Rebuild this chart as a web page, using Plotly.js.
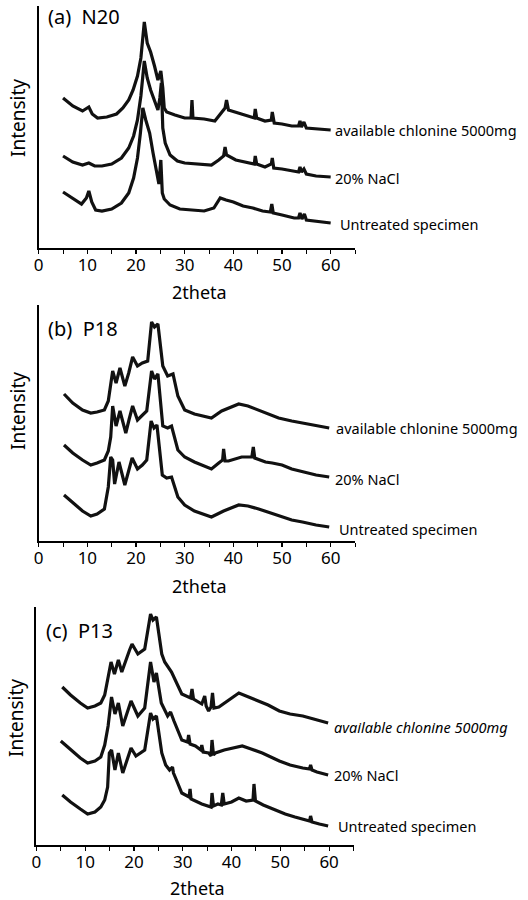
<!DOCTYPE html>
<html>
<head>
<meta charset="utf-8">
<script src="https://cdn.plot.ly/plotly-3.0.1.min.js"></script>
<style>html,body{margin:0;padding:0;background:#fff;}#chart{width:528px;height:900px;}</style>
</head>
<body>
<div id="chart"></div>
<script>
// ---------- Data (2theta vs. relative intensity, stacked curves) ----------
const seriesNames = ["available chlonine 5000mg", "20% NaCl", "Untreated specimen"];
const panelTitles = ["(a)\u00a0 N20", "(b)\u00a0 P18", "(c)\u00a0 P13"];
const xTicks = [0, 10, 20, 30, 40, 50, 60];

// (a) N20
const aChlorX = [5,7,9,10.3,11,12.1,14,16,17.3,18.5,19.4,20.3,21,21.7,22.3,23,23.8,24.5,25.1,25.5,25.8,26.3,28,30,31.3,31.5,31.7,34,36.2,37.5,38.3,38.6,39,41,43,44.3,44.5,44.8,46.5,47.8,48,48.4,50,52,53.4,53.7,54,54.5,55,57,60];
const aChlorY = [150,142,137,141,134,130,131,134,140,148,158,172,190,226,205,196,182,168,177,160,140,136,133,130,130,148,130,129,127,135,140,148,138,135,132,130,139,130,127,128,136,125,124,122,122,127,121,126,120,119,118];
const aNaclX = [5,7,9,10.3,11.5,13,15,17,18.5,19.5,20.3,21,21.7,22.3,23,23.8,24.5,24.9,25.2,25.5,26,27,28.5,30,33,35.5,37,38,38.3,38.6,40.5,43,44.3,44.5,44.8,46.5,47.8,48,48.3,50,52,53.4,53.7,54,54.5,55,57,60];
const aNaclY = [92,86,83,85,82,82,84,90,100,112,128,152,187,170,158,146,138,150,165,120,105,93,87,85,84,83,88,92,101,93,88,85,84,92,84,81,84,90,80,79,77,76,81,76,79,74,72,71];
const aUntrX = [5,7,8.8,9.8,10.3,10.9,11.7,13,15,17,18.5,19.5,20.3,20.9,21.4,22,22.8,23.5,24.2,24.5,24.7,25.1,25.4,25.8,27,29,31,34,36,37.3,38.5,40,42,44,46,47.6,47.9,48.2,50,52.5,53.4,53.7,54.1,54.6,55,57,60];
const aUntrY = [56,50,44,50,57,46,38,37,39,45,55,70,90,115,140,128,115,95,76,66,64,88,55,49,43,39,38,37,40,50,48,46,42,40,37,36,44,35,33,30,30,35,29,34,28,27,25];

// (b) P18
const bChlorX = [5.2,7,9,10.7,12,13.5,14.3,14.8,15.2,15.9,16.7,17.7,18.5,19.3,20.3,21.3,22.4,23.2,23.8,24.5,25.5,26.5,27.6,28.6,30,32,35.5,37.6,39.5,41.1,43,45.2,47,49.3,52,54.2,57,59.7];
const bChlorY = [147,138,131,128,129,131,140,158,170,158,173,155,168,184,175,178,180,219,214,217,175,165,167,145,131,127,123,130,134,137,135,131,128,123,120,118,116,113];
const bNaclX = [5.2,7,9,10.7,12,13.5,14.3,14.8,15.2,15.9,16.7,17.9,18.6,19.3,20.3,21.3,22.2,23.2,23.8,24.5,25.5,26.5,27.3,28.6,30,32,35.5,37,37.8,38.0,38.3,39,41.7,43.8,44.1,44.4,46.6,48,50,52,54.2,57,59.7];
const bNaclY = [96,88,81,76,78,81,90,104,135,115,130,108,122,135,121,126,130,170,162,167,115,113,115,91,84,79,72,78,81,92,80,80,84,84,94,83,79,78,76,72,69,66,64];
const bUntrX = [5.2,7,9,10.7,12,13.5,14.3,14.8,15.2,15.6,16.5,17.7,18.5,19.2,20.3,21.3,22.2,23.1,23.7,24.3,25.4,26.3,27.3,28.6,30,32,35.5,38,41.1,43,45.2,47,50,52,54.2,57,59.7];
const bUntrY = [46,38,30,25,27,32,54,84,81,57,79,56,70,83,72,76,81,120,113,116,66,63,64,44,36,30,24,30,36,35,32,29,24,21,19,16,14];

// (c) P13
const cChlorX = [5.3,7,9,10.5,12,13.2,14,14.6,15.3,16,16.8,17.5,18.3,19.1,19.6,20.8,22.2,23.4,23.9,24.6,25.7,26.3,27.7,28.5,29.8,31.6,31.9,32.2,33.9,34.5,34.8,35.3,35.8,36.1,36.4,37.4,39.5,41.5,43.5,45.7,47.5,49.8,52,54.6,57,59.8];
const cChlorY = [158,150,142,137,139,142,150,166,183,171,185,173,185,195,201,191,196,231,225,228,191,183,173,165,151,147,156,146,141,149,139,134,138,152,137,138,145,152,148,144,140,134,131,129,126,122];
const cNaclX = [5,7,9,10.5,12,13.2,14,14.7,15.4,16.1,16.8,17.7,18.6,19.4,20.8,22.2,23.4,24.1,24.6,25.6,26.9,27.5,28.2,29.8,31.0,31.2,31.5,32.6,33.7,33.9,34.2,35.3,35.8,36.0,36.3,36.7,38.5,40.8,42.2,44,46.3,49.8,52,54.6,56.0,56.2,56.5,57.5,59.8];
const cNaclY = [104,95,87,82,84,88,100,119,148,131,142,119,132,144,129,137,183,163,172,142,129,133,124,105,103,110,101,99,95,100,93,92,89,105,90,92,95,97,99,96,92,84,80,77,76,80,75,73,70];
const cUntrX = [5.3,7,9,10.5,12,13.2,14,14.6,14.95,15.4,16.1,16.8,17.7,18.6,19.4,20.4,22.2,23.4,23.9,24.6,25.7,26.5,27.3,27.9,28.1,28.7,29.8,31.3,31.5,31.7,33.9,35.8,36.0,36.3,37.2,37.9,38.2,38.5,40,41.5,43,44.4,44.6,44.9,46.5,49,51,53,55,56.0,56.2,56.5,58,59.8];
const cUntrY = [50,43,36,31,33,38,45,58,92,95,75,92,72,85,97,89,95,132,126,129,92,80,75,78,72,65,52,48,56,46,41,38,52,39,41,40,52,41,43,47,44,45,61,44,40,35,31,28,25,24,29,23,21,19];

// ---------- Layout helpers ----------
const W = 528, H = 900;
const px = v => v / W;          // pixel -> paper x
const py = v => 1 - v / H;      // pixel -> paper y
const FONT = "Noto Sans, Open Sans, sans-serif";

const panels = [
  {xs:[aChlorX,aNaclX,aUntrX], ys:[aChlorY,aNaclY,aUntrY], x0:38.7, x1:355, top:6,   bot:248, ymax:242,
   lab:[[333,130],[333,178],[338,224]], title:[46,16], ytitle:[18,118], xtitle:[199,292], italic:false},
  {xs:[bChlorX,bNaclX,bUntrX], ys:[bChlorY,bNaclY,bUntrY], x0:38.7, x1:355, top:305, bot:541, ymax:236,
   lab:[[334,428],[333,479],[337,529]], title:[45.5,328], ytitle:[18,411], xtitle:[199,586], italic:false},
  {xs:[cChlorX,cNaclX,cUntrX], ys:[cChlorY,cNaclY,cUntrY], x0:36.4, x1:353.5, top:607, bot:845, ymax:238,
   lab:[[332,727],[332,775],[336,826]], title:[44,630], ytitle:[16,718], xtitle:[197,888], italic:true}
];

const data = [];
const annotations = [];
const layout = {
  width: W, height: H,
  margin: {l:0, r:0, t:0, b:0},
  paper_bgcolor: "#fff", plot_bgcolor: "#fff",
  showlegend: false,
  font: {family: FONT, color: "#000"},
  annotations: annotations
};

panels.forEach((p, i) => {
  const n = i === 0 ? "" : String(i + 1);
  for (let s = 0; s < 3; s++) {
    data.push({
      type: "scatter", mode: "lines",
      x: p.xs[s], y: p.ys[s],
      xaxis: "x" + n, yaxis: "y" + n,
      name: seriesNames[s],
      line: {color: "#111", width: 3.2},
      hoverinfo: "skip"
    });
    annotations.push({
      xref: "paper", yref: "paper",
      x: px(p.lab[s][0]), y: py(p.lab[s][1]),
      xanchor: "left", yanchor: "middle",
      text: (p.italic && s === 0) ? "<i>" + seriesNames[s] + "</i>" : seriesNames[s],
      showarrow: false,
      font: {family: FONT, size: 14.5, color: "#000"}
    });
  }
  layout["xaxis" + n] = {
    domain: [px(p.x0), px(p.x1)],
    anchor: "y" + n,
    range: [0, 65],
    tickmode: "array", tickvals: xTicks,
    ticks: "outside", ticklen: 4, tickwidth: 1.2, tickcolor: "#000",
    ticklabelstandoff: -3,
    minor: {tickmode: "linear", tick0: 0, dtick: 5, ticks: "outside", ticklen: 4, tickwidth: 1, tickcolor: "#000"},
    showline: true, linecolor: "#000", linewidth: 1.6,
    showgrid: false, zeroline: false,
    tickfont: {family: FONT, size: 17, color: "#000"},
    fixedrange: true
  };
  layout["yaxis" + n] = {
    domain: [py(p.bot), py(p.top)],
    anchor: "x" + n,
    range: [0, p.ymax],
    showline: true, linecolor: "#000", linewidth: 2,
    showticklabels: false, ticks: "",
    showgrid: false, zeroline: false,
    fixedrange: true
  };
  annotations.push({
    xref: "paper", yref: "paper", x: px(p.title[0]), y: py(p.title[1]),
    xanchor: "left", yanchor: "middle", showarrow: false,
    text: panelTitles[i], font: {family: FONT, size: 20, color: "#000"}
  });
  annotations.push({
    xref: "paper", yref: "paper", x: px(p.ytitle[0]), y: py(p.ytitle[1]),
    xanchor: "center", yanchor: "middle", showarrow: false, textangle: -90,
    text: "Intensity", font: {family: FONT, size: 19, color: "#000"}
  });
  annotations.push({
    xref: "paper", yref: "paper", x: px(p.xtitle[0]), y: py(p.xtitle[1]),
    xanchor: "center", yanchor: "middle", showarrow: false,
    text: "2theta", font: {family: FONT, size: 18, color: "#000"}
  });
});

Plotly.newPlot("chart", data, layout, {displayModeBar: false, staticPlot: true});
</script>
</body>
</html>
